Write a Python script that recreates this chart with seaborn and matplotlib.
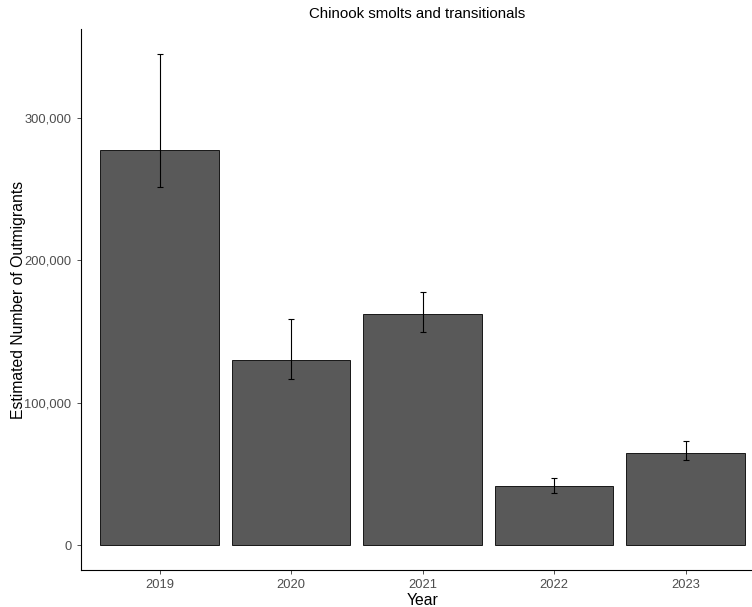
import numpy as np
import pandas as pd
import matplotlib.pyplot as plt
import matplotlib.ticker as mticker
import seaborn as sns

# Values
years = ["2019", "2020", "2021", "2022", "2023"]
estimates = [277300, 129800, 162500, 41200, 64900]
upper_ci = [345000, 158800, 177500, 46900, 73300]
lower_ci = [251700, 116600, 149400, 36300, 59900]

df = pd.DataFrame({"Year": years, "Estimate": estimates,
                   "Upper": upper_ci, "Lower": lower_ci})

sns.set_style("white")
plt.rcParams["font.family"] = ["Liberation Sans", "DejaVu Sans"]

fig = plt.figure(figsize=(7.52, 6.07), dpi=100)
ax = fig.add_axes([80.6 / 752, 0.0616, (764.4 - 80.6) / 752, 0.890])

sns.barplot(data=df, x="Year", y="Estimate", color="#595959", saturation=1,
            width=0.9, edgecolor="black", linewidth=0.6, errorbar=None, ax=ax)

# asymmetric error bars
x = np.arange(len(years))
yerr = [df["Estimate"] - df["Lower"], df["Upper"] - df["Estimate"]]
ax.errorbar(x, df["Estimate"], yerr=yerr, fmt="none", ecolor="black",
            elinewidth=0.8, capsize=2.3, capthick=0.8)

ax.set_xlim(-0.6, 4.6)
ax.set_ylim(-17250, 362250)
ax.yaxis.set_major_locator(mticker.MultipleLocator(100000))
ax.yaxis.set_major_formatter(mticker.FuncFormatter(lambda v, p: f"{int(v):,}"))

for side in ["top", "right"]:
    ax.spines[side].set_visible(False)
for side in ["left", "bottom"]:
    ax.spines[side].set_color("black")
    ax.spines[side].set_linewidth(0.8)

ax.tick_params(axis="both", which="major", length=3, width=0.6, color="#333333",
               labelsize=9.3, labelcolor="#4D4D4D", bottom=True, left=True)

ax.set_xlabel("Year", fontsize=11.3, color="black", labelpad=2)
ax.set_ylabel("Estimated Number of Outmigrants", fontsize=11.3, color="black", labelpad=-1)
ax.set_title("Chinook smolts and transitionals", fontsize=10.8, color="black",
             pad=8, x=0.492)

fig.savefig("out.png", dpi=100)
